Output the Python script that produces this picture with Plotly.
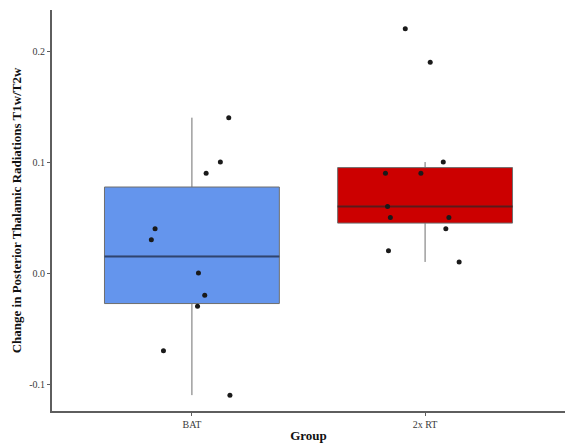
import numpy as np
import plotly.graph_objects as go

# Group labels and per-subject change values
groups = ["BAT", "2x RT"]
bat_values = [0.14, 0.10, 0.09, 0.04, 0.03, 0.00, -0.02, -0.03, -0.07, -0.11]
rt_values = [0.22, 0.19, 0.10, 0.09, 0.09, 0.06, 0.05, 0.05, 0.04, 0.02, 0.01]
# horizontal jitter applied to each point (in category units)
bat_jitter = [0.158, 0.122, 0.061, -0.158, -0.174, 0.028, 0.055, 0.024, -0.122, 0.163]
rt_jitter = [-0.085, 0.022, 0.078, -0.170, -0.018, -0.161, -0.149, 0.102, 0.089, -0.157, 0.146]

series = [bat_values, rt_values]
jitters = [bat_jitter, rt_jitter]
fills = ["#6495ED", "#CC0000"]
median_colors = ["#2f4470", "#5a1a1a"]
box_width = 0.75

fig = go.Figure()


def box_stats(vals):
    v = np.sort(np.asarray(vals, dtype=float))
    q1, med, q3 = np.percentile(v, [25, 50, 75])
    iqr = q3 - q1
    lo = v[v >= q1 - 1.5 * iqr].min()
    hi = v[v <= q3 + 1.5 * iqr].max()
    return q1, med, q3, lo, hi


for i, (vals, fill) in enumerate(zip(series, fills)):
    pos = i + 1
    q1, med, q3, lo, hi = box_stats(vals)
    fig.add_trace(go.Box(
        x=[pos], q1=[q1], median=[med], q3=[q3],
        lowerfence=[lo], upperfence=[hi],
        width=box_width, whiskerwidth=0,
        fillcolor=fill, line=dict(color="#6e6e6e", width=1),
        boxpoints=False, showlegend=False, hoverinfo="skip",
    ))
    # thicker median bar drawn over the box
    fig.add_trace(go.Scatter(
        x=[pos - box_width / 2, pos + box_width / 2], y=[med, med],
        mode="lines", line=dict(color=median_colors[i], width=2),
        showlegend=False, hoverinfo="skip",
    ))

for i, (vals, jit) in enumerate(zip(series, jitters)):
    pos = i + 1
    fig.add_trace(go.Scatter(
        x=[pos + j for j in jit], y=vals, mode="markers",
        marker=dict(color="#1a1a1a", size=5),
        showlegend=False,
    ))

axis_common = dict(
    showline=True, linecolor="#5e5e5e", linewidth=2,
    ticks="outside", ticklen=3, tickwidth=1, tickcolor="#5e5e5e",
    showgrid=False, zeroline=False,
    tickfont=dict(family="Liberation Serif", size=10, color="#3a3a3a"),
    title_font=dict(family="Liberation Serif", size=13, color="#111111"),
)

fig.update_layout(
    width=565, height=445,
    margin=dict(l=52, r=0, t=10, b=34),
    plot_bgcolor="white", paper_bgcolor="white",
    xaxis=dict(
        range=[0.4, 2.6], tickvals=[1, 2], ticktext=groups,
        title=dict(text="<b>Group</b>", standoff=2),
        **axis_common,
    ),
    yaxis=dict(
        range=[-0.1243, 0.237], tickvals=[-0.1, 0.0, 0.1, 0.2],
        ticktext=["-0.1", "0.0", "0.1", "0.2"],
        title=dict(text="<b>Change in Posterior Thalamic Radiations T1w/T2w</b>", standoff=5),
        **axis_common,
    ),
)

fig.write_html("out.html")
